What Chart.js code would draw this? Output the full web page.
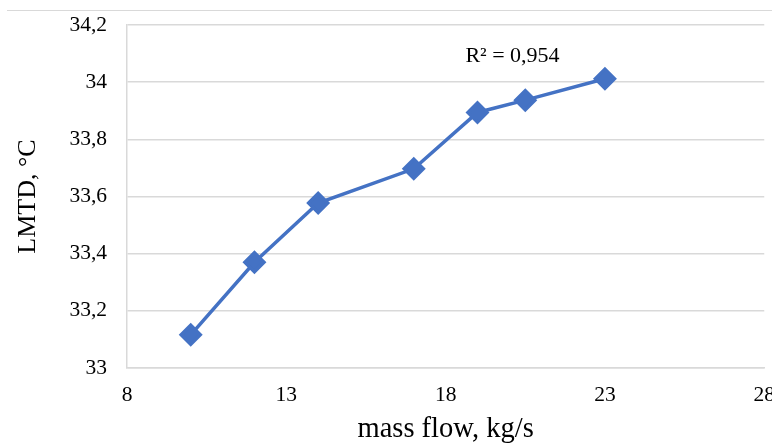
<!DOCTYPE html>
<html><head><meta charset="utf-8">
<script src="https://cdn.jsdelivr.net/npm/chart.js@4"></script>
<style>
html,body{margin:0;padding:0;background:#fff;overflow:hidden;width:772px;height:445px;}
#wrap{position:absolute;left:0;top:0;width:789px;height:445px;}
#topline{position:absolute;left:7px;top:10px;width:765px;height:1px;background:#d9d9d9;}
</style></head>
<body>
<div id="topline"></div>
<div id="wrap"><canvas id="c" width="789" height="445"></canvas></div>
<script>
const massFlow = [10, 12, 14, 17, 19, 20.5, 23];
const lmtd = [33.116, 33.37, 33.577, 33.697, 33.894, 33.937, 34.012];
const xTicks = [8, 13, 18, 23, 28];
const yTicks = [33, 33.2, 33.4, 33.6, 33.8, 34, 34.2];
const r2Label = "R² = 0,954";
const r2Pos = {x: 20.1, y: 34.09};

const serif = "'Liberation Serif', 'Times New Roman', serif";

const r2Plugin = {
  id: 'r2',
  afterDatasetsDraw(chart) {
    const ctx = chart.ctx;
    const xs = chart.scales.x, ys = chart.scales.y;
    ctx.save();
    ctx.font = "22px " + serif;
    ctx.fillStyle = "#000";
    ctx.textAlign = "center";
    ctx.textBaseline = "middle";
    ctx.fillText(r2Label, xs.getPixelForValue(r2Pos.x), ys.getPixelForValue(r2Pos.y));
    ctx.restore();
  }
};

new Chart(document.getElementById('c'), {
  type: 'scatter',
  data: {
    datasets: [{
      data: massFlow.map((x, i) => ({x: x, y: lmtd[i]})),
      showLine: true,
      borderColor: '#4472C4',
      backgroundColor: '#4472C4',
      borderWidth: 3.5,
      pointStyle: 'rectRot',
      pointRadius: 9.5,
      pointHoverRadius: 9.5,
      tension: 0
    }]
  },
  options: {
    responsive: false,
    animation: false,
    layout: {padding: {top: 0, left: 0, right: 0, bottom: 0}},
    plugins: {legend: {display: false}, tooltip: {enabled: false}},
    scales: {
      x: {
        type: 'linear',
        min: 8, max: 28,
        afterBuildTicks: s => { s.ticks = xTicks.map(v => ({value: v})); },
        ticks: {color: '#000', font: {family: serif, size: 21.5}, padding: 14},
        grid: {display: false, drawTicks: false},
        border: {display: true, color: '#d9d9d9', width: 1.5},
        title: {display: true, text: 'mass flow, kg/s', color: '#000', font: {family: serif, size: 28.5, lineHeight: 1.1}, padding: {top: 0, bottom: 0}},
        afterFit: s => { s.height = 77; }
      },
      y: {
        type: 'linear',
        min: 33, max: 34.2,
        afterBuildTicks: s => { s.ticks = yTicks.map(v => ({value: v})); },
        ticks: {color: '#000', font: {family: serif, size: 21.5}, padding: 20,
          callback: v => String(Number(v.toFixed(1))).replace('.', ',')},
        grid: {color: '#d9d9d9', lineWidth: 1.5, drawTicks: false},
        border: {display: true, color: '#d9d9d9', width: 1.5},
        title: {display: true, text: 'LMTD, °C', color: '#000', font: {family: serif, size: 26, lineHeight: 1.1}, padding: {top: 14, bottom: 0}},
        afterFit: s => { s.width = 127; s.paddingTop = 25; s.paddingBottom = 0; }
      }
    }
  },
  plugins: [r2Plugin]
});
</script>
</body></html>
